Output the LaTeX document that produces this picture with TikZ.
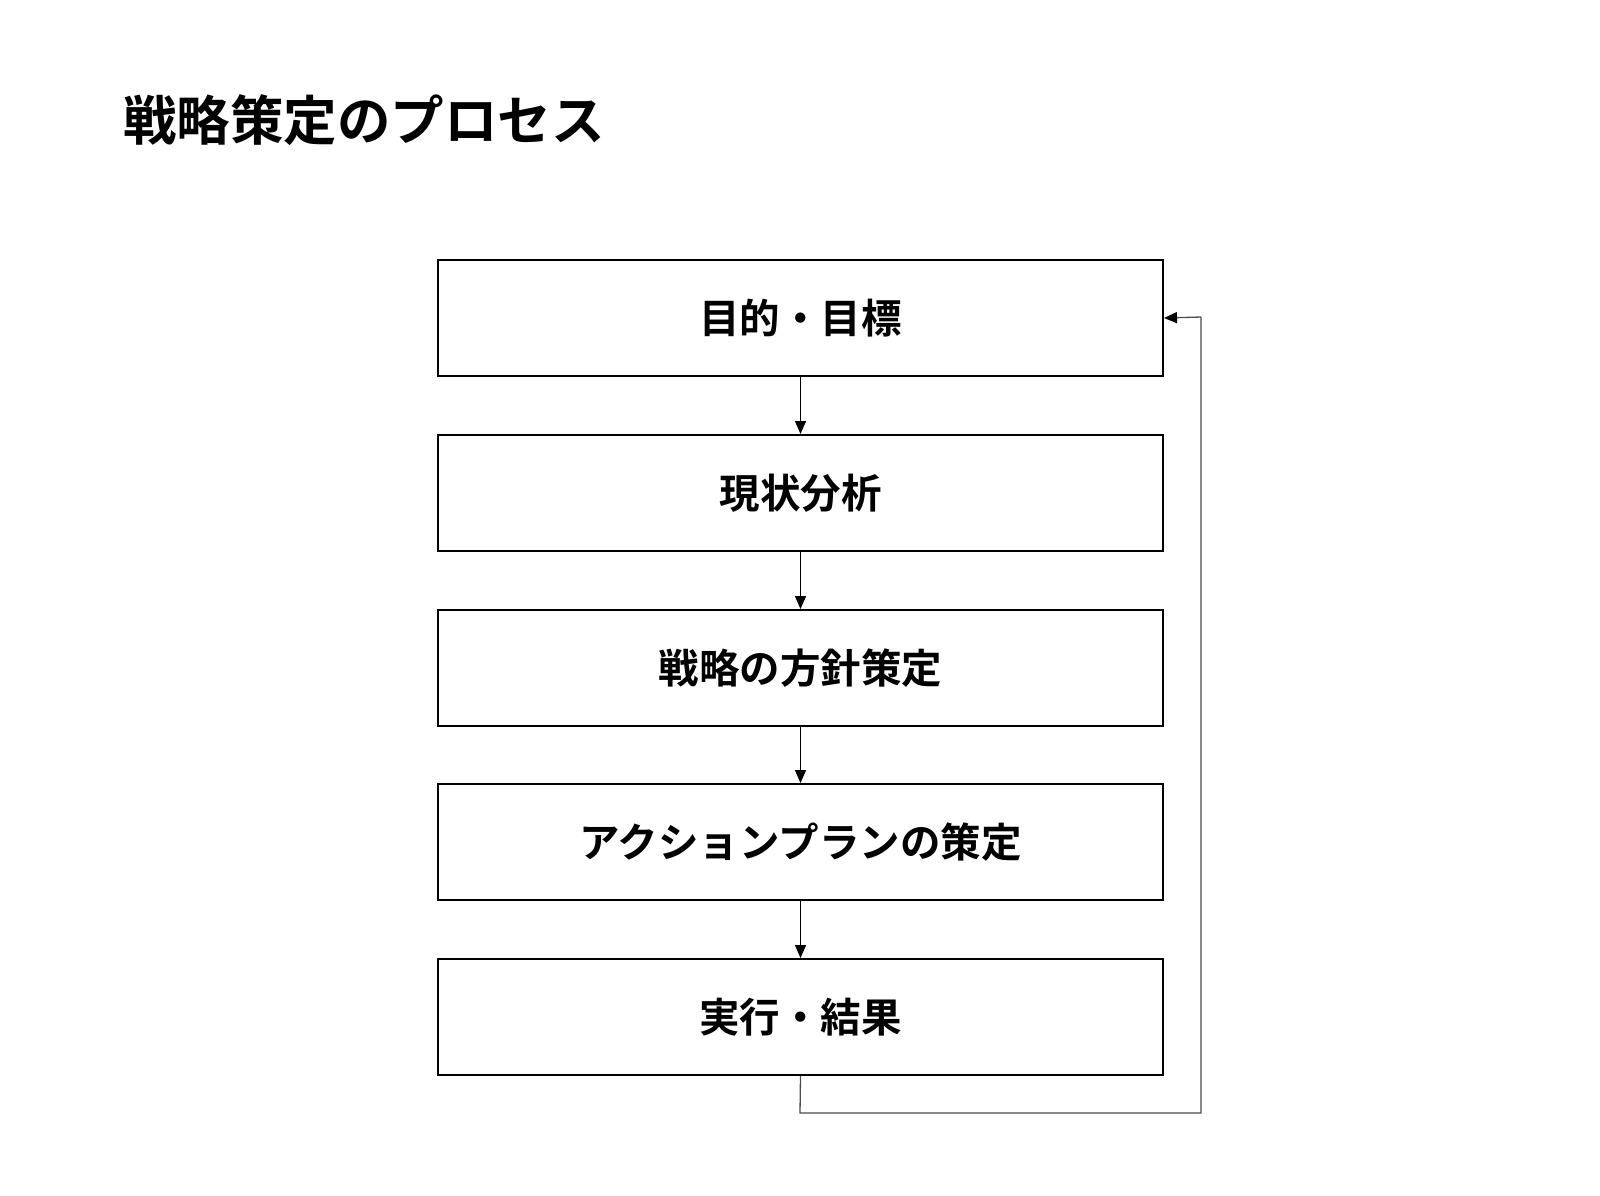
\documentclass[tikz,border=0pt]{standalone}
\usepackage{fontspec}
\newfontfamily\cjkbold{Noto Sans CJK JP Bold}
\usetikzlibrary{arrows.meta}
\begin{document}
\begin{tikzpicture}[x=1pt,y=-1pt,
  stepbox/.style={draw=black,line width=2pt,minimum width=725pt,minimum height=116pt,inner sep=0pt,font=\cjkbold\fontsize{40.5}{46}\selectfont,anchor=north west},
  conn/.style={draw=black,line width=1.4pt,-{Triangle[length=13pt,width=11pt]}},
  back/.style={draw=black!70,line width=1.3pt}]
\useasboundingbox (0,0) rectangle (1600,1195);
\node[anchor=west,inner sep=0pt,font=\cjkbold\fontsize{53.5}{60}\selectfont] (title) at (123,120) {戦略策定のプロセス};
\node[stepbox] (b1) at (437,259) {目的・目標};
\node[stepbox] (b2) at (437,434) {現状分析};
\node[stepbox] (b3) at (437,609) {戦略の方針策定};
\node[stepbox] (b4) at (437,783) {アクションプランの策定};
\node[stepbox] (b5) at (437,958) {実行・結果};
\draw[conn] (b1.south) -- (b2.north);
\draw[conn] (b2.south) -- (b3.north);
\draw[conn] (b3.south) -- (b4.north);
\draw[conn] (b4.south) -- (b5.north);
\coordinate (c1) at (800,1113);
\coordinate (c2) at (1201,1113);
\coordinate (c3) at (1201,317);
\draw[back] (b5.south) -- (c1) -- (c2) -- (c3);
\draw[back,-{Triangle[length=13pt,width=11pt,color=black]}] (c3) -- (b1.east);
\end{tikzpicture}
\end{document}
